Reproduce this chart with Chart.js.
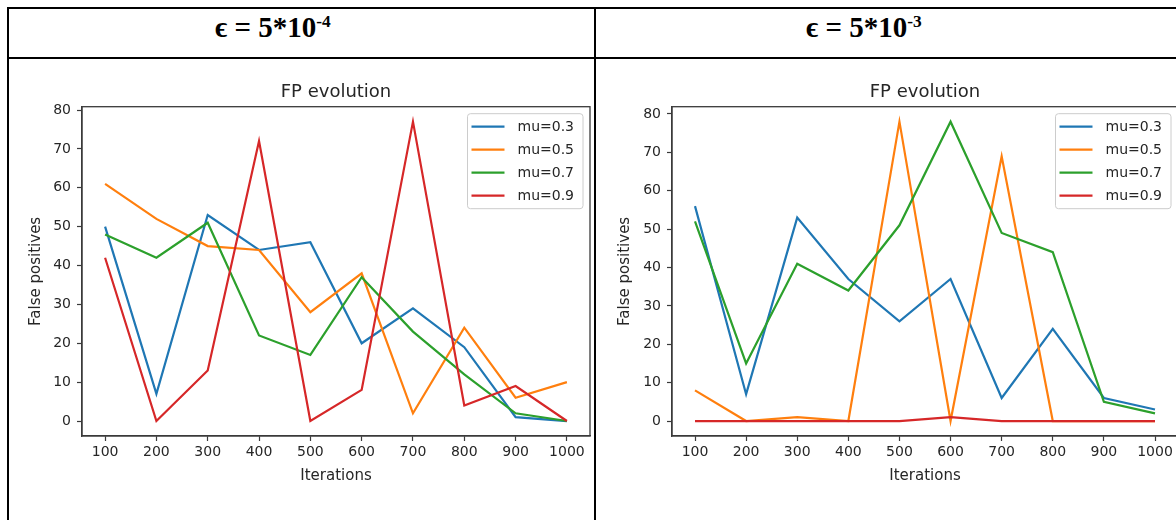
<!DOCTYPE html>
<html>
<head>
<meta charset="utf-8">
<script src="https://cdn.jsdelivr.net/npm/chart.js@4.4.0/dist/chart.umd.min.js"></script>
<style>
  html, body { margin: 0; padding: 0; background: #fff; width: 1176px; height: 520px; overflow: hidden; }
  .rule { position: absolute; background: #000; }
  .head { position: absolute; top: 11px; font: bold 29px "Liberation Serif", "Times New Roman", serif; color: #000; white-space: nowrap; }
  .head sup { font-size: 0.6em; vertical-align: 0.55em; line-height: 0; }
  canvas { position: absolute; top: 60px; }
</style>
</head>
<body>
<div class="rule" style="left:7px; top:7px; width:1180px; height:2px"></div>
<div class="rule" style="left:7px; top:57px; width:1180px; height:2px"></div>
<div class="rule" style="left:7px; top:7px; width:2px; height:520px"></div>
<div class="rule" style="left:594px; top:7px; width:2px; height:520px"></div>
<div class="head" style="left:215px">ϵ = 5*10<sup>-4</sup></div>
<div class="head" style="left:806px">ϵ = 5*10<sup>-3</sup></div>
<canvas id="chartA" width="594" height="460" style="left:0px"></canvas>
<canvas id="chartB" width="590" height="460" style="left:596px"></canvas>
<script>
// x values and tick labels
const iterations = [100, 200, 300, 400, 500, 600, 700, 800, 900, 1000];
const xTickLabels = ['100', '200', '300', '400', '500', '600', '700', '800', '900', '1000'];
const yTicks = [0, 10, 20, 30, 40, 50, 60, 70, 80];
const muLabels = ['mu=0.3', 'mu=0.5', 'mu=0.7', 'mu=0.9'];
const muColors = ['#1f77b4', '#ff7f0e', '#2ca02c', '#d62728'];

// eps = 5*10^-4
const a_mu03 = [50, 7, 53, 44, 46, 20, 29, 19, 1, 0];
const a_mu05 = [61, 52, 45, 44, 28, 38, 2, 24, 6, 10];
const a_mu07 = [48, 42, 51, 22, 17, 37, 23, 12, 2, 0];
const a_mu09 = [42, 0, 13, 72, 0, 8, 77, 4, 9, 0];

// eps = 5*10^-3
const b_mu03 = [56, 7, 53, 37, 26, 37, 6, 24, 6, 3];
const b_mu05 = [8, 0, 1, 0, 78, 0, 69, 0, 0, 0];
const b_mu07 = [52, 15, 41, 34, 51, 78, 49, 44, 5, 2];
const b_mu09 = [0, 0, 0, 0, 0, 1, 0, 0, 0, 0];

Chart.defaults.font.family = '"DejaVu Sans", sans-serif';
Chart.defaults.color = '#262626';

const txt = '#262626';
const spine = '#3a3a3a';

// box around the axes + matplotlib style legend in the upper right
const frameLegend = {
  id: 'frameLegend',
  afterDatasetsDraw(chart) {
    const { ctx, chartArea: a } = chart;
    ctx.save();
    ctx.strokeStyle = spine;
    ctx.lineWidth = 1.3;
    ctx.strokeRect(a.left, a.top, a.right - a.left, a.bottom - a.top);

    ctx.font = '14px "DejaVu Sans"';
    const sets = chart.data.datasets;
    const tw = Math.max(...sets.map(d => ctx.measureText(d.label).width));
    const w = 50 + tw + 9;
    const h = 95;
    const x = a.right - 7 - w;
    const y = a.top + 7;
    ctx.beginPath();
    ctx.roundRect(x, y, w, h, 3);
    ctx.fillStyle = 'rgba(255,255,255,0.8)';
    ctx.fill();
    ctx.strokeStyle = '#cccccc';
    ctx.lineWidth = 1;
    ctx.stroke();
    sets.forEach((d, i) => {
      const cy = y + 13 + i * 23;
      ctx.beginPath();
      ctx.moveTo(x + 4, cy);
      ctx.lineTo(x + 37, cy);
      ctx.strokeStyle = d.borderColor;
      ctx.lineWidth = 2.2;
      ctx.stroke();
      ctx.fillStyle = txt;
      ctx.textBaseline = 'middle';
      ctx.fillText(d.label, x + 50, cy + 1);
    });
    ctx.restore();
  }
};

function makeChart(id, series, yMin, yMax, yWidth, yTitlePad, padRight) {
  return new Chart(document.getElementById(id), {
    type: 'line',
    data: {
      datasets: series.map((s, i) => ({
        label: muLabels[i],
        data: iterations.map((x, j) => ({ x: x, y: s[j] })),
        borderColor: muColors[i],
        backgroundColor: muColors[i],
        borderWidth: 2.2,
        pointRadius: 0,
        tension: 0,
        fill: false,
        order: series.length - i  // later series on top, like matplotlib
      }))
    },
    options: {
      responsive: false,
      animation: false,
      devicePixelRatio: 1,
      layout: { padding: { left: 0, right: padRight, top: 0, bottom: 0 } },
      plugins: {
        legend: { display: false },
        tooltip: { enabled: false },
        title: {
          display: true,
          text: 'FP evolution',
          fullSize: false,
          color: txt,
          font: { size: 18, weight: 'normal' },
          padding: { top: 21.2, bottom: 3.9 }
        }
      },
      scales: {
        x: {
          type: 'linear',
          min: 55,
          max: 1045,
          afterBuildTicks: s => { s.ticks = iterations.map(v => ({ value: v })); },
          afterFit: s => { s.height = 84; },
          ticks: {
            color: txt,
            font: { size: 14 },
            padding: 3,
            maxRotation: 0,
            autoSkip: false,
            callback: (v, i) => xTickLabels[i]
          },
          grid: { drawOnChartArea: false, drawTicks: true, tickLength: 5, tickColor: spine, tickWidth: 1.2 },
          border: { display: true, color: spine, width: 1.3 },
          title: { display: true, text: 'Iterations', color: txt, font: { size: 15 }, padding: { top: 0, bottom: 35 } }
        },
        y: {
          type: 'linear',
          min: yMin,
          max: yMax,
          afterBuildTicks: s => { s.ticks = yTicks.map(v => ({ value: v })); },
          afterFit: s => { s.width = yWidth; },
          ticks: { color: txt, font: { size: 14 }, padding: 6, callback: v => String(v) },
          grid: { drawOnChartArea: false, drawTicks: true, tickLength: 5, tickColor: spine, tickWidth: 1.2 },
          border: { display: true, color: spine, width: 1.3 },
          title: { display: true, text: 'False positives', color: txt, font: { size: 15 }, padding: { top: yTitlePad, bottom: 0 } }
        }
      }
    },
    plugins: [frameLegend]
  });
}

makeChart('chartA', [a_mu03, a_mu05, a_mu07, a_mu09], -3.85, 80.85, 82, 27, 4);
makeChart('chartB', [b_mu03, b_mu05, b_mu07, b_mu09], -3.9, 81.9, 76, 20, 8);
</script>
</body>
</html>
